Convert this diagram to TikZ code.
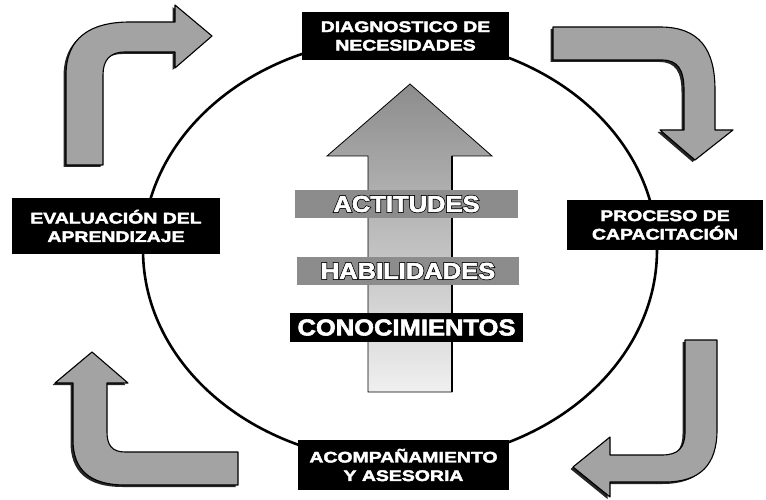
\documentclass[tikz,border=0pt]{standalone}
\usepackage{fontspec}
\setmainfont{Liberation Sans}
\newfontfamily\boxfont{Liberation Sans}[FakeStretch=1.27, BoldFeatures={FakeBold=2.8}]
\newfontfamily\barfontK{Liberation Sans}[FakeStretch=1.11, BoldFeatures={FakeBold=9}]
\newfontfamily\barfontW{Liberation Sans}[FakeStretch=1.11, BoldFeatures={FakeBold=2.5}]
\tikzset{
  ring/.style={draw=black, line width=2.6pt},
  labelbox/.style={fill=black, text=white, align=center, inner sep=0pt,
    font=\boxfont\bfseries\fontsize{15.3}{18.5}\selectfont},
  bar/.style={fill=black!45, inner sep=0pt},
  barshade/.style={font=\barfontK\bfseries\fontsize{23}{23}\selectfont, inner sep=0pt, text=black},
  bartext/.style={font=\barfontW\bfseries\fontsize{23}{23}\selectfont, inner sep=0pt, text=white},
  bendfill/.style={fill=black!36, draw=black, line width=1.1pt, line join=round},
  bendshadow/.style={fill=black!85, line join=round},
  arrA/.style={insert path={(66,165) -- (66,75) .. controls (66,38) and (90,22) .. (130,22) -- (175,22) -- (175,5) -- (212,36) -- (175,68) -- (175,52) -- (125,52) .. controls (110,52) and (103,60) .. (103,75) -- (103,165) -- cycle}},
  arrB/.style={insert path={(553,27) -- (660,27) .. controls (700,27) and (715,50) .. (715,90) -- (715,130) -- (733,130) -- (695,160) -- (660,130) -- (684,130) -- (684,90) .. controls (684,70) and (678,60) .. (662,60) -- (553,60) -- cycle}},
  arrC/.style={insert path={(685,340) -- (717,340) -- (717,430) .. controls (717,465) and (700,482) .. (665,482) -- (610,482) -- (610,497) -- (573,467) -- (610,437) -- (610,455) -- (662,455) .. controls (678,455) and (685,448) .. (685,432) -- cycle}},
  arrD/.style={insert path={(238,452) -- (125,452) .. controls (112,452) and (107,445) .. (107,432) -- (107,383) -- (128,383) -- (92,352) -- (55,383) -- (73,383) -- (73,440) .. controls (73,470) and (90,485) .. (125,485) -- (238,485) -- cycle}},
}
\begin{document}
\begin{tikzpicture}[x=1pt,y=-1pt]
\useasboundingbox (0,0) rectangle (766,500);
\fill[white] (0,0) rectangle (766,500);

% ring
\coordinate (ctr) at (400,250);
\draw[ring] (ctr) ellipse [x radius=257pt, y radius=212pt];

% curved arrows
\fill[bendshadow, shift={(-2.5,2)}, arrA];
\path[bendfill, arrA];
\fill[bendshadow, shift={(-2.5,2)}, arrB];
\path[bendfill, arrB];
\fill[bendshadow, shift={(-2.5,2)}, arrC];
\path[bendfill, arrC];
\fill[bendshadow, shift={(-2.5,2)}, arrD];
\path[bendfill, arrD];

% central arrow
\path[top color=black!45, bottom color=black!6, draw=black, line width=0.8pt]
  (368,392) -- (368,156) -- (327,156) -- (410,84) -- (492,156) -- (452,156) -- (452,392) -- cycle;
\draw[black, line width=1.6pt] (452,156) -- (452,392);

% bars
\node[bar, minimum width=223pt, minimum height=28pt] (barA) at (406.5,204) {};
\node[bar, minimum width=222pt, minimum height=28pt] (barH) at (408,271) {};
\node[bar, fill=black, minimum width=233pt, minimum height=29pt] (barC) at (406.5,327.5) {};
\node[barshade] (sA) at (barA) {ACTITUDES};
\node[bartext] (tA) at (barA) {ACTITUDES};
\node[barshade] (sH) at (barH) {HABILIDADES};
\node[bartext] (tH) at (barH) {HABILIDADES};
\node[bartext] (tC) at (barC) {CONOCIMIENTOS};

% label boxes
\node[labelbox, minimum width=207pt, minimum height=48pt] (diag) at (405.5,36) {DIAGNOSTICO DE\\NECESIDADES};
\node[labelbox, minimum width=196pt, minimum height=50pt] (proc) at (665,225) {PROCESO DE\\CAPACITACIÓN};
\node[labelbox, minimum width=208pt, minimum height=56pt] (eval) at (116,226) {EVALUACIÓN DEL\\APRENDIZAJE};
\node[labelbox, minimum width=211pt, minimum height=50pt] (acom) at (403.5,465) {ACOMPAÑAMIENTO\\Y ASESORIA};
\end{tikzpicture}
\end{document}
